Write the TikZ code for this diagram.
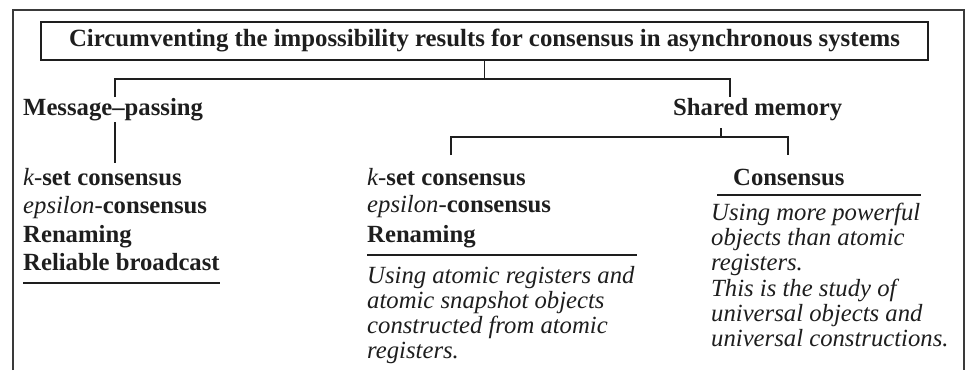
\documentclass[tikz,border=0pt]{standalone}
\usepackage{fontspec}
\setmainfont{Liberation Serif}
\definecolor{ink}{HTML}{1E1E1E}
\definecolor{frame}{HTML}{3A3A3A}
\begin{document}
\begin{tikzpicture}[x=1pt,y=-1pt,
  txt/.style={anchor=base west, inner sep=0pt, text=ink,
    font=\fontsize{24.7}{25}\selectfont},
  bf/.style={txt, font=\fontsize{24.7}{25}\selectfont\bfseries},
  it/.style={txt, font=\fontsize{24.7}{25}\selectfont\itshape},
  wire/.style={draw=ink, line width=1.3pt},
  rule/.style={draw=ink, line width=1.2pt}]
\useasboundingbox (0,0) rectangle (967,370);

% open outer frame
\draw[frame, line width=1.6pt] (13,370) -- (13,10) -- (964,10) -- (964,370);

% title box
\node[draw=ink, line width=1.3pt, minimum width=887pt, minimum height=38pt,
      inner sep=0pt, text=ink, font=\fontsize{24.8}{25}\selectfont\bfseries]
  (title) at (484.5,41)
  {Circumventing the impossibility results for consensus in asynchronous systems};

% first level
\node[bf] (mp) at (23,115) {Message--passing};
\node[bf] (sm) at (673,115) {Shared memory};

\coordinate (j1) at (484.5,79);
\coordinate (mpIn) at (115,97);
\coordinate (smIn) at (730,97);
\draw[wire] (title.south) -- (j1);
\draw[wire] (mpIn) -- (mpIn |- j1) -- (smIn |- j1) -- (smIn);

% message-passing branch
\coordinate (mpA) at (115,122);
\coordinate (mpB) at (115,163);
\draw[wire] (mpA) -- (mpB);

\node[txt] (l1) at (23,185) {{\itshape k-}{\bfseries set consensus}};
\node[txt] (l2) at (23,213) {{\itshape epsilon-}{\bfseries consensus}};
\node[bf]  (l3) at (23,242) {Renaming};
\node[bf]  (l4) at (23,270) {Reliable broadcast};
\coordinate (lu1) at (23,283);
\coordinate (lu2) at (220,283);
\draw[rule] (lu1) -- (lu2);

% shared-memory branch
\coordinate (smOut) at (721,128);
\coordinate (j2) at (721,137);
\coordinate (midIn) at (451,155);
\coordinate (rgtIn) at (788,155);
\draw[wire] (smOut) -- (j2);
\draw[wire] (midIn) -- (midIn |- j2) -- (rgtIn |- j2) -- (rgtIn);

% middle column
\node[txt] (m1) at (367,185) {{\itshape k-}{\bfseries set consensus}};
\node[txt] (m2) at (367,212) {{\itshape epsilon-}{\bfseries consensus}};
\node[bf]  (m3) at (367,242) {Renaming};
\coordinate (mu1) at (367,255);
\coordinate (mu2) at (637,255);
\draw[rule] (mu1) -- (mu2);
\node[it] (mi1) at (367,283) {Using atomic registers and};
\node[it] (mi2) at (367,308) {atomic snapshot objects};
\node[it] (mi3) at (367,333) {constructed from atomic};
\node[it] (mi4) at (367,358) {registers.};

% right column
\node[bf] (r0) at (733,185) {Consensus};
\coordinate (ru1) at (717,195);
\coordinate (ru2) at (921,195);
\draw[rule] (ru1) -- (ru2);
\node[it] (ri1) at (711,220) {Using more powerful};
\node[it] (ri2) at (711,245) {objects than atomic};
\node[it] (ri3) at (711,270) {registers.};
\node[it] (ri4) at (711,296) {This is the study of};
\node[it] (ri5) at (711,321) {universal objects and};
\node[it] (ri6) at (711,346) {universal constructions.};
\end{tikzpicture}
\end{document}
